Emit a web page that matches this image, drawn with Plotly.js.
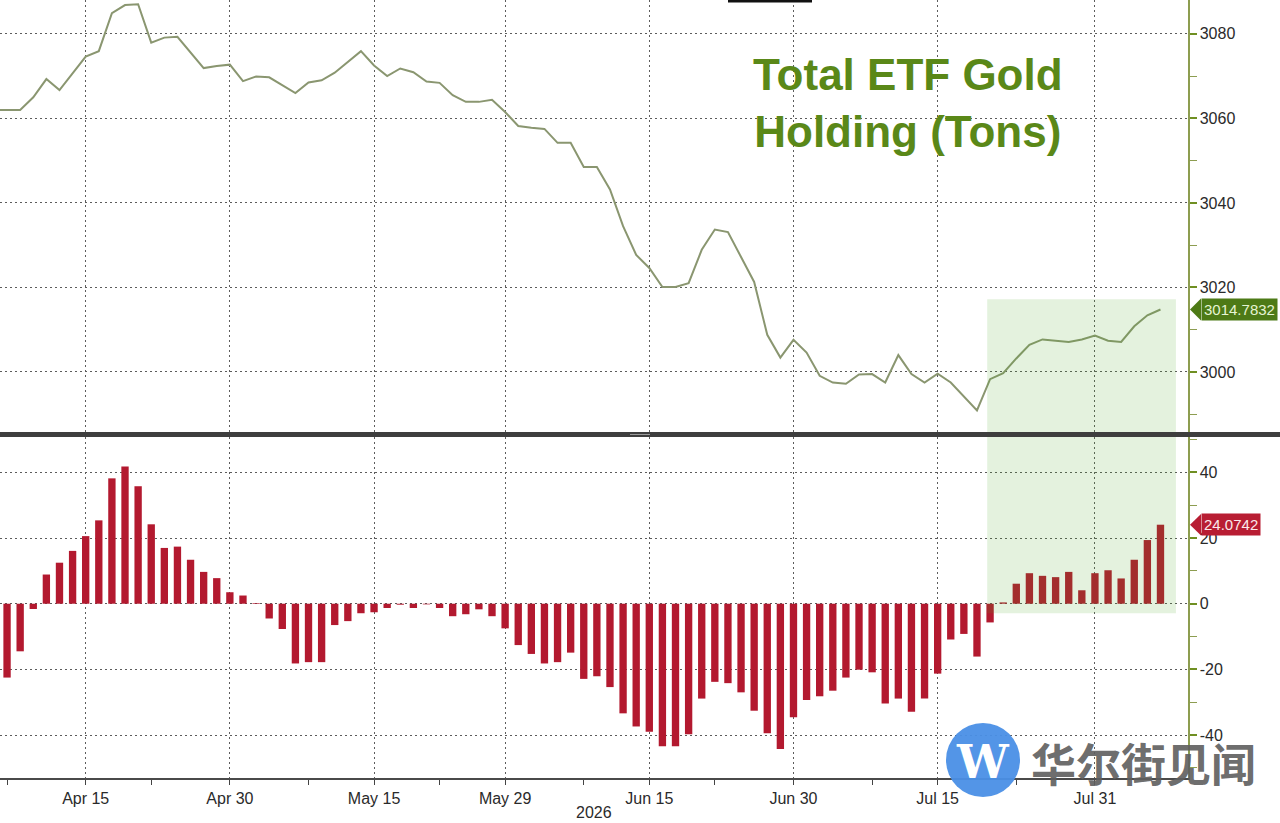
<!DOCTYPE html>
<html>
<head>
<meta charset="utf-8">
<script src="https://cdn.plot.ly/plotly-3.0.1.min.js"></script>
<style>
  html, body { margin: 0; padding: 0; background: #ffffff; }
  #chart { width: 1280px; height: 823px; }
</style>
</head>
<body>
<div id="chart"></div>
<script>
// ---------- data ----------
const dates = [
  '2026-04-06','2026-04-07','2026-04-08','2026-04-09','2026-04-10','2026-04-13','2026-04-14','2026-04-15','2026-04-16','2026-04-17',
  '2026-04-20','2026-04-21','2026-04-22','2026-04-23','2026-04-24','2026-04-27','2026-04-28','2026-04-29','2026-04-30',
  '2026-05-01','2026-05-04','2026-05-05','2026-05-06','2026-05-07','2026-05-08','2026-05-11','2026-05-12','2026-05-13','2026-05-14',
  '2026-05-15','2026-05-18','2026-05-19','2026-05-20','2026-05-21','2026-05-22','2026-05-25','2026-05-26','2026-05-27','2026-05-28','2026-05-29',
  '2026-06-01','2026-06-02','2026-06-03','2026-06-04','2026-06-05','2026-06-08','2026-06-09','2026-06-10','2026-06-11','2026-06-12',
  '2026-06-15','2026-06-16','2026-06-17','2026-06-18','2026-06-19','2026-06-22','2026-06-23','2026-06-24','2026-06-25','2026-06-26','2026-06-29','2026-06-30',
  '2026-07-01','2026-07-02','2026-07-03','2026-07-06','2026-07-07','2026-07-08','2026-07-09','2026-07-10','2026-07-13','2026-07-14',
  '2026-07-15','2026-07-16','2026-07-17','2026-07-20','2026-07-21','2026-07-22','2026-07-23','2026-07-24','2026-07-27','2026-07-28','2026-07-29','2026-07-30','2026-07-31',
  '2026-08-03','2026-08-04','2026-08-05','2026-08-06','2026-08-07'
];

// Total ETF gold holding (tons)
const holdings = [
  3062.0,
  3062.0, 3062.0, 3065.0, 3069.3, 3066.7, 3070.6, 3074.6, 3075.9, 3084.9, 3086.8, 3087.0, 3077.9, 3079.1, 3079.3, 3075.5, 3071.9, 3072.4, 3072.7,
  3068.8, 3069.9, 3069.7, 3067.9, 3066.0, 3068.5, 3069.0, 3070.8, 3073.4, 3075.9, 3072.5, 3070.0, 3071.8, 3070.9, 3068.7, 3068.4, 3065.5, 3063.9, 3063.9, 3064.4, 3061.5,
  3058.2, 3057.8, 3057.5, 3054.2, 3054.2, 3048.5, 3048.5, 3043.2, 3034.5, 3027.7, 3024.6, 3020.1, 3020.1, 3021.0, 3028.9, 3033.7, 3033.1, 3027.2, 3021.3, 3008.8, 3003.4, 3007.6,
  3004.6, 2999.1, 2997.5, 2997.2, 2999.4, 2999.5, 2997.5, 3004.0, 2999.5, 2997.5, 2999.6, 2997.5, 2994.2, 2990.9, 2998.3, 2999.7, 3003.2, 3006.4, 3007.7, 3007.4, 3007.1, 3007.7, 3008.6,
  3007.4, 3007.1, 3010.8, 3013.4, 3014.7832
];

// Change in holdings (tons)
const flows = [
  null,
  -22.5, -14.5, -1.6, 8.9, 12.5, 16.1, 20.6, 25.4, 38.2, 41.8, 35.8, 24.2, 17.0, 17.4, 13.4, 9.7, 7.8, 3.5,
  2.5, 0.2, -4.5, -7.7, -18.2, -17.8, -17.8, -6.5, -5.3, -2.9, -2.6, -1.3, -0.3, -1.3, -0.2, -1.3, -3.8, -3.2, -1.7, -3.8, -7.5,
  -12.6, -15.3, -18.2, -17.8, -14.9, -22.9, -22.1, -25.4, -33.4, -37.4, -39.0, -43.4, -43.4, -39.8, -28.9, -23.8, -24.2, -27.0, -32.6, -39.5, -44.3, -34.6,
  -29.3, -28.2, -26.5, -22.5, -20.1, -20.9, -30.4, -28.9, -32.9, -28.9, -21.3, -10.9, -9.2, -16.1, -5.7, 0.4, 6.1, 9.3, 8.5, 8.1, 9.7, 4.1, 9.3,
  10.2, 7.7, 13.4, 19.4, 24.0742
];

const xTickDates  = ['2026-04-15','2026-04-30','2026-05-15','2026-05-29','2026-06-15','2026-06-30','2026-07-15','2026-07-31'];
const xTickLabels = ['Apr 15','Apr 30','May 15','May 29','Jun 15','Jun 30','Jul 15','Jul 31'];
const xMinorDates = ['2026-04-07','2026-04-22','2026-05-08','2026-05-22','2026-06-08','2026-06-22','2026-07-08','2026-07-23'];
const yTopTicks  = [3000, 3020, 3040, 3060, 3080];
const yTopLabels = ['3000', '3020', '3040', '3060', '3080'];
const yBotTicks  = [-40, -20, 0, 20, 40];
const yBotLabels = ['-40', '-20', '0', '20', '40'];
const yearLabel = '2026';
const titleText = 'Total ETF Gold<br>Holding (Tons)';
const lastHoldingLabel = '3014.7832';
const lastFlowLabel = '24.0742';
const watermarkText = '华尔街见闻';
const highlightStart = '2026-07-21';

// ---------- geometry helpers (pixel -> paper) ----------
const W = 1280, H = 823;
const M = { l: 0, r: 92, t: 0, b: 45 };
const PW = W - M.l - M.r;   // 1188
const PH = H - M.t - M.b;   // 778
const px = x => (x - M.l) / PW;
const py = y => (PH - (y - M.t)) / PH;

const FONT = 'Liberation Sans, Arial, Helvetica, sans-serif';
const lineColor = '#8a9670';
const barColor = '#b3192f';
const axisGreen = '#8d9d50';
const gridColor = '#5c5c5c';

const lastHold = holdings[holdings.length - 1];
const lastFlow = flows[flows.length - 1];
const hiIdx = dates.indexOf(highlightStart);

const traces = [
  {
    type: 'scatter', mode: 'lines',
    x: dates, y: holdings,
    xaxis: 'x', yaxis: 'y',
    line: { color: lineColor, width: 2 },
    hoverinfo: 'x+y', showlegend: false
  },
  {
    type: 'bar',
    x: dates, y: flows,
    xaxis: 'x', yaxis: 'y2',
    marker: { color: barColor, line: { width: 0 } },
    hoverinfo: 'x+y', showlegend: false
  }
];

const layout = {
  width: W, height: H,
  margin: M,
  paper_bgcolor: '#ffffff',
  plot_bgcolor: '#ffffff',
  showlegend: false,
  bargap: 0.44,
  font: { family: FONT, size: 16, color: '#2a2a2a' },
  xaxis: {
    type: 'category',
    categoryorder: 'array', categoryarray: dates,
    range: [0.462, 91.1],
    anchor: 'y2',
    tickmode: 'array', tickvals: xTickDates, ticktext: xTickLabels,
    ticks: 'outside', ticklen: 5, tickwidth: 1, tickcolor: '#444',
    minor: { tickmode: 'array', tickvals: xMinorDates, ticks: 'outside', ticklen: 5, tickcolor: '#444', showgrid: false },
    showgrid: true, gridcolor: gridColor, gridwidth: 1, griddash: '2px,3px',
    showline: true, linecolor: '#4a4a4a', linewidth: 2,
    zeroline: false,
    tickfont: { family: FONT, size: 16, color: '#2a2a2a' },
    fixedrange: true
  },
  yaxis: {
    domain: [1 - 432 / PH, 1],
    range: [2985.8, 3088.0],
    side: 'right', anchor: 'x',
    tickmode: 'array', tickvals: yTopTicks, ticktext: yTopLabels,
    ticks: 'outside', ticklen: 7, tickwidth: 2, tickcolor: '#6f8f22',
    minor: { dtick: 10, ticks: 'outside', ticklen: 7, tickwidth: 1, tickcolor: axisGreen, showgrid: false },
    showgrid: true, gridcolor: gridColor, gridwidth: 1, griddash: '2px,3px',
    showline: true, linecolor: axisGreen, linewidth: 1.5,
    zeroline: false,
    tickfont: { family: FONT, size: 16, color: '#2a2a2a' },
    fixedrange: true
  },
  yaxis2: {
    domain: [0, (PH - 437) / PH],
    range: [-53.1, 50.8],
    side: 'right', anchor: 'x',
    tickmode: 'array', tickvals: yBotTicks, ticktext: yBotLabels,
    ticks: 'outside', ticklen: 7, tickwidth: 2, tickcolor: '#6f8f22',
    minor: { dtick: 10, ticks: 'outside', ticklen: 7, tickwidth: 1, tickcolor: axisGreen, showgrid: false },
    showgrid: true, gridcolor: gridColor, gridwidth: 1, griddash: '2px,3px',
    showline: true, linecolor: axisGreen, linewidth: 1.5,
    zeroline: false,
    tickfont: { family: FONT, size: 16, color: '#2a2a2a' },
    fixedrange: true
  },
  shapes: [
    // highlighted recent period
    {
      type: 'rect', layer: 'above',
      xref: 'x', x0: hiIdx - 0.22, x1: dates.length + 0.18,
      yref: 'paper', y0: py(613.3), y1: py(299.3),
      fillcolor: 'rgb(75,168,35)', opacity: 0.15,
      line: { width: 0 }
    },
    // panel separator
    {
      type: 'line', layer: 'above',
      xref: 'paper', x0: px(0), x1: px(W),
      yref: 'paper', y0: py(434.5), y1: py(434.5),
      line: { color: '#3e3e3e', width: 5 }
    },
    {
      type: 'line', layer: 'above',
      xref: 'paper', x0: px(630), x1: px(650),
      yref: 'paper', y0: py(434.5), y1: py(434.5),
      line: { color: '#9a9a9a', width: 1 }
    },
    // small black bar at top edge
    {
      type: 'rect', layer: 'above',
      xref: 'paper', x0: px(728), x1: px(812),
      yref: 'paper', y0: py(2.5), y1: py(0),
      fillcolor: '#111111', line: { width: 0 }
    },
    // value-tag pointers
    {
      type: 'path', layer: 'above',
      xref: 'paper', yref: 'y',
      path: `M ${px(1190)},${lastHold} L ${px(1201)},${lastHold + 2.6} L ${px(1201)},${lastHold - 2.6} Z`,
      fillcolor: '#4d7a16', line: { width: 0 }
    },
    {
      type: 'path', layer: 'above',
      xref: 'paper', yref: 'y2',
      path: `M ${px(1190)},${lastFlow} L ${px(1201)},${lastFlow + 3.3} L ${px(1201)},${lastFlow - 3.3} Z`,
      fillcolor: '#b81d33', line: { width: 0 }
    },
    // watermark circle
    {
      type: 'circle', layer: 'above',
      xref: 'paper', x0: px(946), x1: px(1020),
      yref: 'paper', y0: py(797), y1: py(723),
      fillcolor: '#4a8fe6', line: { width: 0 }, opacity: 0.95
    }
  ],
  annotations: [
    {
      xref: 'paper', yref: 'paper', x: px(908), y: py(103),
      xanchor: 'center', yanchor: 'middle', showarrow: false,
      text: '<b>' + titleText + '</b>',
      font: { family: FONT, size: 44, color: '#5a8818' },
      align: 'center'
    },
    {
      xref: 'paper', yref: 'paper', x: 0.5, y: py(812),
      xanchor: 'center', yanchor: 'middle', showarrow: false,
      text: yearLabel,
      font: { family: FONT, size: 16, color: '#2a2a2a' }
    },
    {
      xref: 'paper', yref: 'y', x: px(1200.5), y: lastHold,
      xanchor: 'left', yanchor: 'middle', showarrow: false,
      text: lastHoldingLabel,
      bgcolor: '#4d7a16', borderpad: 2,
      font: { family: FONT, size: 15, color: '#e6f4d2' }
    },
    {
      xref: 'paper', yref: 'y2', x: px(1200.5), y: lastFlow,
      xanchor: 'left', yanchor: 'middle', showarrow: false,
      text: lastFlowLabel,
      bgcolor: '#b81d33', borderpad: 2,
      font: { family: FONT, size: 15, color: '#fbe9ea' }
    },
    {
      xref: 'paper', yref: 'paper', x: px(983), y: py(762),
      xanchor: 'center', yanchor: 'middle', showarrow: false,
      text: '<b>W</b>',
      font: { family: 'DejaVu Serif, Liberation Serif, serif', size: 46, color: '#ffffff' }
    },
    {
      xref: 'paper', yref: 'paper', x: px(1143), y: py(762),
      xanchor: 'center', yanchor: 'middle', showarrow: false,
      text: '<b>' + watermarkText + '</b>',
      font: { family: 'Noto Sans CJK SC, sans-serif', size: 45, color: 'rgba(95,95,95,0.92)' }
    }
  ]
};

Plotly.newPlot('chart', traces, layout, { displayModeBar: false, staticPlot: true });
</script>
</body>
</html>
